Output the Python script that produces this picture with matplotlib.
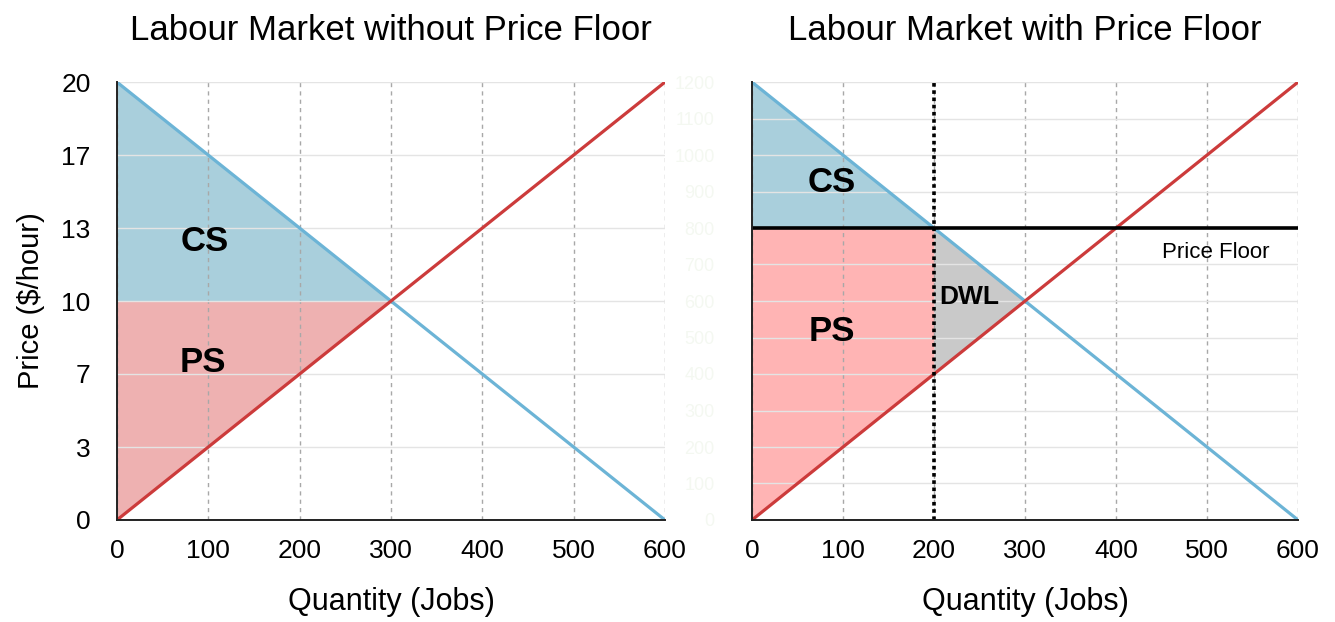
import numpy as np
import matplotlib.pyplot as plt

plt.rcParams['font.family'] = ['Liberation Sans', 'DejaVu Sans']

# --- Market data ---
quantity = [0, 600]
demand_price = [20, 0]
supply_price = [0, 20]
eq_quantity = 300
eq_price = 10
floor_price = 13.33
floor_quantity = 200

x_ticks = [0, 100, 200, 300, 400, 500, 600]
price_ticks = [0, 3.33, 6.67, 10, 13.33, 16.67, 20]
price_labels = ['0', '3', '7', '10', '13', '17', '20']
right_grid = [0, 1.67, 3.33, 5, 6.67, 8.33, 10, 11.67, 13.33, 15, 16.67, 18.33, 20]
right_labels = ['0', '100', '200', '300', '400', '500', '600', '700', '800',
                '900', '1000', '1100', '1200']

DEMAND_C = '#6cb4d6'
SUPPLY_C = '#cc3b3b'
CS_C = '#a9cfdc'


def demand(q):
    # np.interp needs increasing x, which quantity already is
    return np.interp(q, quantity, demand_price)


def supply(q):
    return np.interp(q, quantity, supply_price)


def style_axes(ax, yticks, ylabels, label_color='black', ypad=19):
    ax.set_xlim(0, 600)
    ax.set_ylim(0, 20)
    ax.set_xticks(x_ticks)
    ax.set_yticks(yticks)
    ax.set_yticklabels(ylabels)
    ax.tick_params(axis='both', length=0, labelsize=19)
    ax.tick_params(axis='x', pad=14)
    ax.tick_params(axis='y', pad=ypad, labelcolor=label_color)
    for side in ['top', 'right']:
        ax.spines[side].set_visible(False)
    for side in ['left', 'bottom']:
        ax.spines[side].set_linewidth(1.4)
        ax.spines[side].set_color('#222222')
        ax.spines[side].set_zorder(6)
    ax.set_axisbelow(False)
    ax.xaxis.grid(True, color='#a8a8a8', linestyle=(0, (3, 3)), linewidth=1.0)
    ax.yaxis.grid(True, color='#e4e4e4', linestyle='-', linewidth=1.0)
    ax.set_xlabel('Quantity (Jobs)', fontsize=22, labelpad=17)


fig = plt.figure(figsize=(13.35, 6.22), dpi=100)
ax1 = fig.add_axes([0.0876, 0.164, 0.4105, 0.704])
ax2 = fig.add_axes([0.5633, 0.164, 0.409, 0.704])

# --- Left: free market ---
style_axes(ax1, price_ticks, price_labels)
q_eq = np.array([0, eq_quantity])
ax1.fill_between(q_eq, demand(q_eq), eq_price, color=CS_C, linewidth=0, zorder=1)
ax1.fill_between(q_eq, supply(q_eq), eq_price, color='#eeb1b1', linewidth=0, zorder=1)
ax1.plot(quantity, demand_price, color=DEMAND_C, linewidth=2.3, zorder=3)
ax1.plot(quantity, supply_price, color=SUPPLY_C, linewidth=2.3, zorder=3)
ax1.text(96, 12.7, 'CS', fontsize=25, fontweight='bold', ha='center', va='center', zorder=4)
ax1.text(94, 7.2, 'PS', fontsize=25, fontweight='bold', ha='center', va='center', zorder=4)
ax1.set_ylabel('Price ($/hour)', fontsize=21, labelpad=12)
ax1.set_title('Labour Market without Price Floor', fontsize=25, pad=30)

# --- Right: with price floor ---
style_axes(ax2, right_grid, right_labels, label_color='#f4f8f1', ypad=27)
ax2.tick_params(axis='y', labelsize=13)
q_fl = np.array([0, floor_quantity])
q_dwl = np.array([floor_quantity, eq_quantity])
ax2.fill_between(q_fl, demand(q_fl), floor_price, color=CS_C, linewidth=0, zorder=1)
ax2.fill_between(q_fl, supply(q_fl), floor_price, color='#ffb4b4', linewidth=0, zorder=1)
ax2.fill_between(q_dwl, demand(q_dwl), supply(q_dwl), color='#c9c9c9', linewidth=0, zorder=1)
ax2.plot(quantity, demand_price, color=DEMAND_C, linewidth=2.3, zorder=3)
ax2.plot(quantity, supply_price, color=SUPPLY_C, linewidth=2.3, zorder=3)
ax2.plot(quantity, [floor_price, floor_price], color='black', linewidth=2.6, zorder=4)
ax2.plot([floor_quantity, floor_quantity], [0, 20], color='black', linewidth=2.6,
         linestyle=(0, (1, 1)), zorder=4)
ax2.text(88, 15.4, 'CS', fontsize=25, fontweight='bold', ha='center', va='center', zorder=5)
ax2.text(88, 8.6, 'PS', fontsize=25, fontweight='bold', ha='center', va='center', zorder=5)
ax2.text(206, 10.2, 'DWL', fontsize=19, fontweight='bold', ha='left', va='center', zorder=5)
ax2.text(510, 12.2, 'Price Floor', fontsize=16, ha='center', va='center', zorder=5)
ax2.set_title('Labour Market with Price Floor', fontsize=25, pad=30)

fig.savefig('out.png', dpi=100)
